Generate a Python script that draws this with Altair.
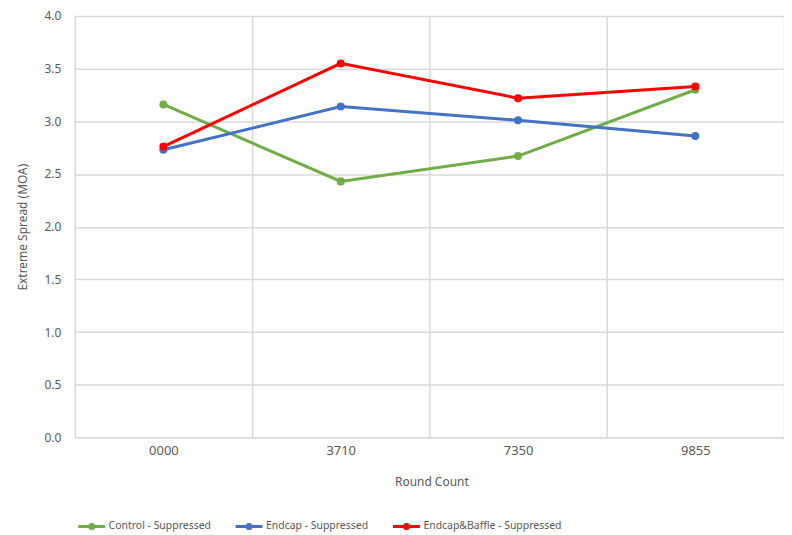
import altair as alt
import pandas as pd

rounds = ["0000", "3710", "7350", "9855"]
series = ["Control - Suppressed", "Endcap - Suppressed", "Endcap&Baffle - Suppressed"]
control = [3.16, 2.43, 2.67, 3.30]
endcap = [2.73, 3.14, 3.01, 2.86]
endcap_baffle = [2.76, 3.55, 3.22, 3.33]
colors = ["#70ad47", "#4472c4", "#ff0000"]

rows = []
for name, vals in zip(series, [control, endcap, endcap_baffle]):
    for r, v in zip(rounds, vals):
        rows.append({"Round": r, "Series": name, "Value": v})
df = pd.DataFrame(rows)

FONT = "Noto Sans"
GREY = "#595959"
W, H = 712, 423

legend_sym = "M-1,0L1,0M-0.15,0A0.15,0.15 0 1,1 0.15,0A0.15,0.15 0 1,1 -0.15,0Z"

chart = alt.Chart(df).mark_line(
    strokeWidth=3,
    point=alt.OverlayMarkDef(size=65, filled=True, opacity=1),
).encode(
    x=alt.X("Round:N", sort=rounds, scale=alt.Scale(paddingInner=0, paddingOuter=0),
            axis=alt.Axis(title="Round Count", labelAngle=0, tickBand="extent", grid=True,
                          gridColor="#d9d9d9", gridWidth=1.5, ticks=False,
                          domainColor="#d9d9d9", domainWidth=1.5,
                          labelFont=FONT, labelFontSize=13, labelColor=GREY, labelPadding=7,
                          titleFont=FONT, titleFontSize=12, titleFontWeight="normal",
                          titleColor=GREY, titleX=W / 2 + 2, titleY=44, titleBaseline="middle")),
    y=alt.Y("Value:Q", scale=alt.Scale(domain=[0, 4]),
            axis=alt.Axis(title="Extreme Spread (MOA)", values=[0, 0.5, 1, 1.5, 2, 2.5, 3, 3.5, 4],
                          format=".1f", grid=True, gridColor="#d9d9d9", gridWidth=1.5,
                          ticks=False, domain=False,
                          labelFont=FONT, labelFontSize=12, labelColor=GREY, labelPadding=14,
                          titleFont=FONT, titleFontSize=12, titleFontWeight="normal",
                          titleColor=GREY, titleX=-52, titleY=H / 2, titleAngle=-90,
                          titleAlign="center", titleBaseline="middle")),
    color=alt.Color("Series:N", sort=series,
                    scale=alt.Scale(domain=series, range=colors),
                    legend=alt.Legend(title=None, orient="none", direction="horizontal",
                                      legendX=2, legendY=497,
                                      symbolType=legend_sym, symbolSize=729,
                                      symbolStrokeWidth=3, symbolOpacity=1,
                                      labelFont=FONT, labelFontSize=10.5, labelColor=GREY,
                                      labelOffset=2, columnPadding=18)),
).properties(
    width=W, height=H,
    autosize=alt.AutoSizeParams(type="none"),
    padding={"left": 67, "top": 7, "right": 0, "bottom": 100},
).configure_view(stroke=None)

chart.save("out.html", embed_options={"renderer": "svg", "actions": False})
